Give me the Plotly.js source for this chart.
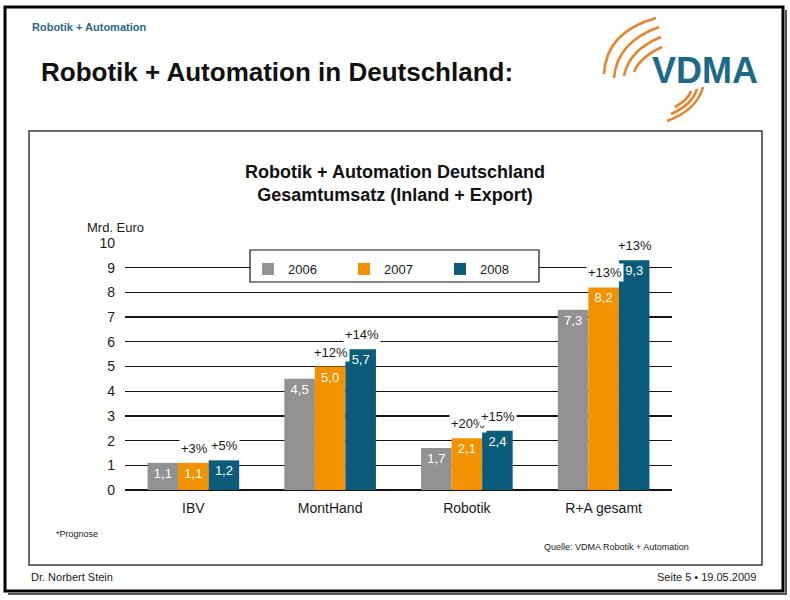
<!DOCTYPE html>
<html>
<head>
<meta charset="utf-8">
<script src="https://cdn.plot.ly/plotly-3.0.1.min.js"></script>
<style>
  html, body { margin: 0; padding: 0; background: #ffffff; }
  #chart { width: 790px; height: 600px; }
</style>
</head>
<body>
<div id="chart"></div>
<script>
// Gesamtumsatz Robotik + Automation, Mrd. Euro
const categories = ['IBV', 'MontHand', 'Robotik', 'R+A gesamt'];
const years = ['2006', '2007', '2008'];
const values2006 = [1.1, 4.5, 1.7, 7.3];
const values2007 = [1.1, 5.0, 2.1, 8.2];
const values2008 = [1.2, 5.7, 2.4, 9.3];
// Wachstum gegenüber Vorjahr
const growth2007 = ['+3%', '+12%', '+20%', '+13%'];
const growth2008 = ['+5%', '+14%', '+15%', '+13%'];
const yTicks = [0, 1, 2, 3, 4, 5, 6, 7, 8, 9, 10];

const W = 790, H = 600;
const FONT = 'Liberation Sans, Arial, Helvetica, sans-serif';
const colors = ['#929292', '#f39200', '#0b5b7a'];

// pixel -> paper helpers (margins are zero, so paper == page)
const px = x => x / W;
const py = y => 1 - y / H;

// plot area in page pixels
const plotLeft = 125, plotRight = 672, plotTop = 243, plotBottom = 490;
const bargap = 0.33;
const barWidthPx = (plotRight - plotLeft) / categories.length * (1 - bargap) / years.length;

const series = [values2006, values2007, values2008];
const traces = series.map((vals, i) => ({
  type: 'bar',
  name: years[i],
  x: categories,
  y: vals,
  marker: { color: colors[i], line: { width: 0 } },
  texttemplate: '%{y:.1f}',
  textposition: 'inside',
  insidetextanchor: 'end',
  textangle: 0,
  constraintext: 'none',
  textfont: { family: FONT, size: 13, color: '#ffffff' },
  hoverinfo: 'skip'
}));

const annotations = [];
function label(text, x, y, opts) {
  annotations.push(Object.assign({
    text: text, xref: 'paper', yref: 'paper', x: px(x), y: py(y),
    xanchor: 'left', yanchor: 'middle', showarrow: false,
    font: { family: FONT, size: 11, color: '#111111' }
  }, opts || {}));
}

// growth labels above the 2007 and 2008 bars
[[values2007, growth2007, 0], [values2008, growth2008, 1]].forEach(([vals, g, k]) => {
  categories.forEach((c, j) => {
    annotations.push({
      text: g[j], xref: 'x', yref: 'y', x: c, y: vals[j],
      xshift: k * barWidthPx + 1, yshift: 5,
      xanchor: 'center', yanchor: 'bottom', showarrow: false,
      bgcolor: '#ffffff', borderpad: 1,
      font: { family: FONT, size: 13, color: '#1a1a1a' }
    });
  });
});

label('Robotik + Automation', 30, 27, { font: { family: FONT, size: 11, color: '#2b6a85', weight: 'bold' } });
label('Robotik + Automation in Deutschland:', 39, 72, { font: { family: FONT, size: 26, color: '#111111', weight: 'bold' } });
label('VDMA', 705, 70, { xanchor: 'center', font: { family: FONT, size: 36, color: '#1c6a87', weight: 'bold' } });
label('Mrd. Euro', 85, 227, { font: { family: FONT, size: 13, color: '#1a1a1a' } });
label('*Prognose', 54, 534, { font: { family: FONT, size: 9, color: '#1a1a1a' } });
label('Quelle: VDMA Robotik + Automation', 542, 547, { font: { family: FONT, size: 9, color: '#1a1a1a' } });
label('Dr. Norbert Stein', 29, 577, { font: { family: FONT, size: 11, color: '#1a1a1a' } });
label('Seite 5 \u2022 19.05.2009', 758, 577, { xanchor: 'right', font: { family: FONT, size: 11, color: '#1a1a1a' } });

// quadratic curve in page pixels -> path in paper coordinates
function arc(p0, c, p1) {
  return 'M' + px(p0[0]) + ',' + py(p0[1]) +
         ' Q' + px(c[0]) + ',' + py(c[1]) + ' ' + px(p1[0]) + ',' + py(p1[1]);
}
const logoArcs = [
  [[604, 74], [606, 32], [656, 18]],
  [[614, 78], [617, 42], [659, 27]],
  [[624, 76], [629, 50], [661, 37]],
  [[634, 72], [640, 57], [662, 47]],
  [[667, 121], [697, 110], [703, 87]],
  [[671, 114], [692, 105], [697, 89]],
  [[675, 107], [688, 100], [691, 91]]
];

const shapes = [
  // slide frame with a slight drop shadow on the right and bottom
  { type: 'path', xref: 'paper', yref: 'paper',
    path: 'M' + px(786) + ',' + py(10) + ' L' + px(786) + ',' + py(594) + ' L' + px(8) + ',' + py(594),
    line: { color: '#555555', width: 2 }, layer: 'below' },
  { type: 'rect', xref: 'paper', yref: 'paper', x0: px(5), x1: px(783), y0: py(7), y1: py(591),
    line: { color: '#000000', width: 3 }, layer: 'below' },
  // chart frame
  { type: 'rect', xref: 'paper', yref: 'paper', x0: px(29), x1: px(762), y0: py(131), y1: py(565),
    line: { color: '#3a3a3a', width: 1.5 }, layer: 'below' },
  // legend box
  { type: 'rect', xref: 'paper', yref: 'paper', x0: px(250), x1: px(539), y0: py(250), y1: py(282),
    line: { color: '#111111', width: 1.2 }, fillcolor: '#ffffff', layer: 'above' }
].concat(logoArcs.map(a => ({
  type: 'path', xref: 'paper', yref: 'paper', path: arc(a[0], a[1], a[2]),
  line: { color: '#e8852c', width: 2.6 }, layer: 'above'
})));

const layout = {
  width: W, height: H,
  margin: { l: 0, r: 0, t: 0, b: 0, pad: 0 },
  paper_bgcolor: '#ffffff', plot_bgcolor: 'rgba(0,0,0,0)',
  separators: ',.',
  font: { family: FONT, size: 13, color: '#1a1a1a' },
  title: {
    text: 'Robotik + Automation Deutschland<br>Gesamtumsatz (Inland + Export)',
    xref: 'paper', yref: 'paper', x: px(395), y: py(178), xanchor: 'center', yanchor: 'top',
    font: { family: FONT, size: 18, color: '#111111', weight: 'bold' }
  },
  barmode: 'group', bargap: bargap, bargroupgap: 0,
  xaxis: {
    domain: [px(plotLeft), px(plotRight)],
    type: 'category', showgrid: false, showline: false, ticks: '',
    ticklabelstandoff: 8,
    tickfont: { family: FONT, size: 14, color: '#1a1a1a' },
    fixedrange: true
  },
  yaxis: {
    domain: [py(plotBottom), py(plotTop)],
    range: [0, 10], tickvals: yTicks,
    showgrid: true, gridcolor: '#151515', gridwidth: 1.3,
    zeroline: true, zerolinecolor: '#151515', zerolinewidth: 1.3,
    showline: false, ticks: '', ticklabelstandoff: 9,
    tickfont: { family: FONT, size: 14, color: '#1a1a1a' },
    fixedrange: true
  },
  showlegend: true,
  legend: {
    orientation: 'h', x: px(248), y: py(254), xanchor: 'left', yanchor: 'top',
    bgcolor: 'rgba(0,0,0,0)', borderwidth: 0,
    entrywidth: 51, entrywidthmode: 'pixels',
    font: { family: FONT, size: 13, color: '#1a1a1a' },
    itemclick: false, itemdoubleclick: false
  },
  hovermode: false,
  annotations: annotations,
  shapes: shapes
};

Plotly.newPlot('chart', traces, layout, { staticPlot: true, displayModeBar: false });
</script>
</body>
</html>
